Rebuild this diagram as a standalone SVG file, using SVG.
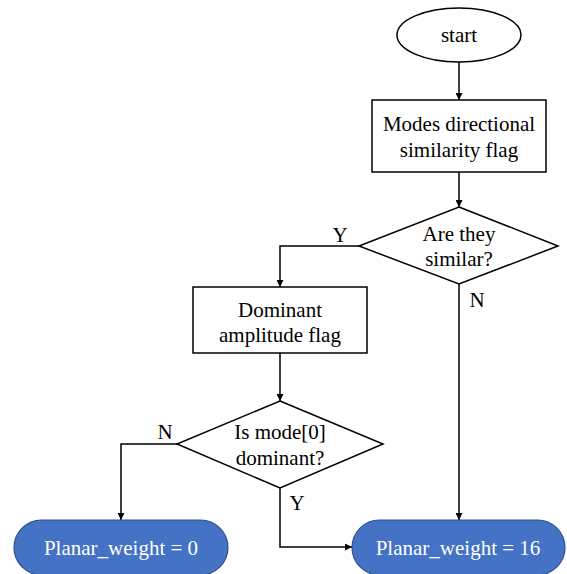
<svg xmlns="http://www.w3.org/2000/svg" width="567" height="574" viewBox="0 0 567 574">
<style>
.s{fill:#fff;stroke:#000;stroke-width:1.5}
.p{fill:#4472C4;stroke:#2F528F;stroke-width:1.2}
.t{font-family:"Liberation Serif","Times New Roman",serif;font-size:21px;fill:#000;text-anchor:middle;dominant-baseline:central}
.w{fill:#fff}
.c{fill:none;stroke:#000;stroke-width:1.5;marker-end:url(#a)}
</style>
<defs>
<marker id="a" viewBox="0 0 10 10" refX="10" refY="5" markerWidth="7" markerHeight="7" markerUnits="userSpaceOnUse" orient="auto">
<path d="M0,0 L10,5 L0,10 z" fill="#000"/>
</marker>
</defs>
<rect width="567" height="574" fill="#fff"/>
<g id="connectors">
<path class="c" d="M459,62 V100"/>
<path class="c" d="M459,172 V207"/>
<path class="c" d="M359,246 H280 V287"/>
<path class="c" d="M459,284 V520"/>
<path class="c" d="M280,353 V401"/>
<path class="c" d="M177,444 H121 V520"/>
<path class="c" d="M280,488 V547 H352"/>
<text class="t" x="340" y="235">Y</text>
<text class="t" x="477" y="300">N</text>
<text class="t" x="165" y="432">N</text>
<text class="t" x="297" y="503">Y</text>
</g>
<g id="start">
<ellipse class="s" cx="459" cy="35" rx="62" ry="27"/>
<text class="t" x="459" y="35">start</text>
</g>
<g id="modes">
<rect class="s" x="372" y="100" width="174" height="72"/>
<text class="t" x="459" y="124">Modes directional</text>
<text class="t" x="459" y="150">similarity flag</text>
</g>
<g id="similar">
<polygon class="s" points="459,207 558,246 459,284 359,246"/>
<text class="t" x="459" y="234">Are they</text>
<text class="t" x="459" y="259">similar?</text>
</g>
<g id="dominant">
<rect class="s" x="193" y="287" width="174" height="66"/>
<text class="t" x="280" y="310">Dominant</text>
<text class="t" x="280" y="335">amplitude flag</text>
</g>
<g id="isdominant">
<polygon class="s" points="280,401 383,444 280,488 177,444"/>
<text class="t" x="280" y="432">Is mode[0]</text>
<text class="t" x="280" y="458">dominant?</text>
</g>
<g id="pw0">
<rect class="p" x="14" y="520" width="214" height="55" rx="27.5" ry="27.5"/>
<text class="t w" x="121" y="548">Planar_weight = 0</text>
</g>
<g id="pw16">
<rect class="p" x="352" y="520" width="213" height="55" rx="27.5" ry="27.5"/>
<text class="t w" x="458" y="548">Planar_weight = 16</text>
</g>
</svg>
